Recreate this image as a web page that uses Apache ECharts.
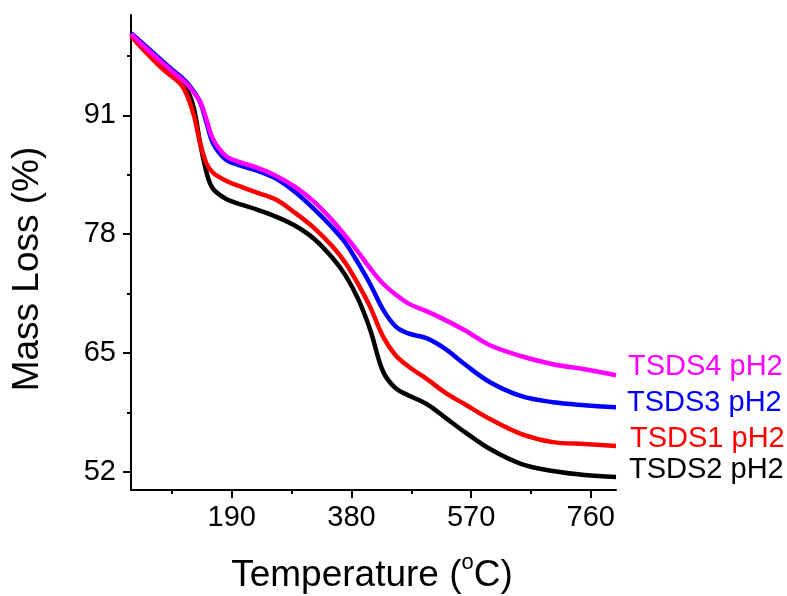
<!DOCTYPE html>
<html>
<head>
<meta charset="utf-8">
<script src="https://cdn.jsdelivr.net/npm/echarts@6/dist/echarts.min.js"></script>
<style>html,body{margin:0;padding:0;background:#fff}#c{width:787px;height:596px}</style>
</head>
<body>
<div id="c"></div>
<script>
// Temperature (°C)
var temps = [30, 50, 80, 100, 110, 120, 130, 140, 150, 160, 180, 200, 230, 260, 290, 320, 350, 370, 390, 410, 430, 450, 470, 500, 530, 560, 600, 650, 700, 750, 800];
// Mass (%)
var tsds2 = [99.92, 98.5, 96.54, 95.23, 94.57, 93.7, 91.73, 87.9, 84.74, 82.99, 81.9, 81.35, 80.7, 79.93, 78.95, 77.53, 75.4, 73.55, 71.0, 67.5, 63.0, 61.14, 60.38, 59.39, 57.87, 56.34, 54.48, 52.84, 52.08, 51.64, 51.42];
var tsds1 = [99.7, 98.18, 96.1, 95.0, 94.35, 93.07, 90.97, 87.91, 85.72, 84.74, 83.87, 83.32, 82.55, 81.79, 80.37, 78.73, 76.66, 74.91, 72.61, 69.99, 66.82, 64.75, 63.55, 62.13, 60.6, 59.39, 57.76, 56.12, 55.24, 55.03, 54.81];
var tsds3 = [100.0, 98.8, 96.95, 95.75, 95.2, 94.5, 93.6, 92.4, 90.2, 88.0, 86.2, 85.6, 84.95, 84.1, 82.66, 80.81, 78.7, 77.1, 74.91, 72.5, 69.77, 67.92, 67.15, 66.6, 65.4, 63.76, 61.8, 60.27, 59.61, 59.29, 59.07];
var tsds4 = [99.92, 98.61, 96.76, 95.55, 95.0, 94.35, 93.48, 92.5, 90.53, 88.45, 86.6, 85.94, 85.29, 84.41, 83.21, 81.6, 79.5, 77.86, 76.11, 74.25, 72.61, 71.41, 70.43, 69.55, 68.57, 67.48, 65.84, 64.64, 63.76, 63.22, 62.56];

var seriesNames = ['TSDS2 pH2', 'TSDS1 pH2', 'TSDS3 pH2', 'TSDS4 pH2'];
var seriesData = [tsds2, tsds1, tsds3, tsds4];
var seriesColors = ['#000000', '#ff0000', '#0000ff', '#ff00ff'];

var xMajor = [190, 380, 570, 760];
var xMinor = [95, 285, 475, 665];
var yMajor = [52, 65, 78, 91];
var yMinor = [58.5, 71.5, 84.5, 97.5];

var FONT = "'Liberation Sans', Arial, sans-serif";

function pairs(vals) {
  return temps.map(function (t, i) { return [t, vals[i]]; });
}

// measure title pieces for superscript placement
var mctx = document.createElement('canvas').getContext('2d');
function tw(txt, size) { mctx.font = size + 'px ' + FONT; return mctx.measureText(txt).width; }
var T1 = 'Temperature (', T2 = 'o', T3 = 'C)';
var S1 = 37, S2 = 22;
var w1 = tw(T1, S1), w2 = tw(T2, S2), w3 = tw(T3, S1);
var tx0 = 372 - (w1 + w2 + w3) / 2;

var chart = echarts.init(document.getElementById('c'), null, {renderer: 'canvas'});

chart.setOption({
  animation: false,
  backgroundColor: '#ffffff',
  grid: {left: 131, right: 171, top: 15, bottom: 106, containLabel: false},
  xAxis: [{
    type: 'value', min: 30, max: 800,
    axisLine: {show: true, lineStyle: {color: '#000', width: 2}},
    axisTick: {show: true, inside: false, length: 8, lineStyle: {color: '#000', width: 2}, customValues: xMajor},
    axisLabel: {show: true, margin: 13, color: '#000', fontSize: 29, fontFamily: FONT, customValues: xMajor},
    splitLine: {show: false}
  }, {
    type: 'value', min: 30, max: 800, position: 'bottom',
    axisLine: {show: false},
    axisTick: {show: true, inside: false, length: 4, lineStyle: {color: '#000', width: 2}, customValues: xMinor},
    axisLabel: {show: false},
    splitLine: {show: false}
  }],
  yAxis: [{
    type: 'value', min: 50, max: 102,
    axisLine: {show: true, lineStyle: {color: '#000', width: 2}},
    axisTick: {show: true, inside: false, length: 8, lineStyle: {color: '#000', width: 2}, customValues: yMajor},
    axisLabel: {show: true, margin: 15, color: '#000', fontSize: 29, fontFamily: FONT, customValues: yMajor},
    splitLine: {show: false}
  }, {
    type: 'value', min: 50, max: 102, position: 'left',
    axisLine: {show: false},
    axisTick: {show: true, inside: false, length: 4, lineStyle: {color: '#000', width: 2}, customValues: yMinor},
    axisLabel: {show: false},
    splitLine: {show: false}
  }],
  series: seriesNames.map(function (n, i) {
    return {
      name: n, type: 'line', xAxisIndex: 0, yAxisIndex: 0,
      data: pairs(seriesData[i]),
      showSymbol: false, smooth: 0.35,
      lineStyle: {color: seriesColors[i], width: 4.5},
      itemStyle: {color: seriesColors[i]}
    };
  }),
  graphic: [
    {type: 'text', x: 28, y: 269, rotation: Math.PI / 2,
     style: {text: 'Mass Loss (%)', fill: '#000', font: S1 + 'px ' + FONT, textAlign: 'center', textVerticalAlign: 'middle'}},
    {type: 'text', x: tx0, y: 576,
     style: {text: T1, fill: '#000', font: S1 + 'px ' + FONT, textAlign: 'left', textVerticalAlign: 'middle'}},
    {type: 'text', x: tx0 + w1, y: 563,
     style: {text: T2, fill: '#000', font: S2 + 'px ' + FONT, textAlign: 'left', textVerticalAlign: 'middle'}},
    {type: 'text', x: tx0 + w1 + w2, y: 576,
     style: {text: T3, fill: '#000', font: S1 + 'px ' + FONT, textAlign: 'left', textVerticalAlign: 'middle'}},
    {type: 'text', x: 628, y: 367, style: {text: 'TSDS4 pH2', fill: '#ff00ff', font: '29px ' + FONT, textAlign: 'left', textVerticalAlign: 'middle'}},
    {type: 'text', x: 627, y: 403, style: {text: 'TSDS3 pH2', fill: '#0000ff', font: '29px ' + FONT, textAlign: 'left', textVerticalAlign: 'middle'}},
    {type: 'text', x: 630, y: 439, style: {text: 'TSDS1 pH2', fill: '#ff0000', font: '29px ' + FONT, textAlign: 'left', textVerticalAlign: 'middle'}},
    {type: 'text', x: 629, y: 470, style: {text: 'TSDS2 pH2', fill: '#000000', font: '29px ' + FONT, textAlign: 'left', textVerticalAlign: 'middle'}}
  ]
});
</script>
</body>
</html>
